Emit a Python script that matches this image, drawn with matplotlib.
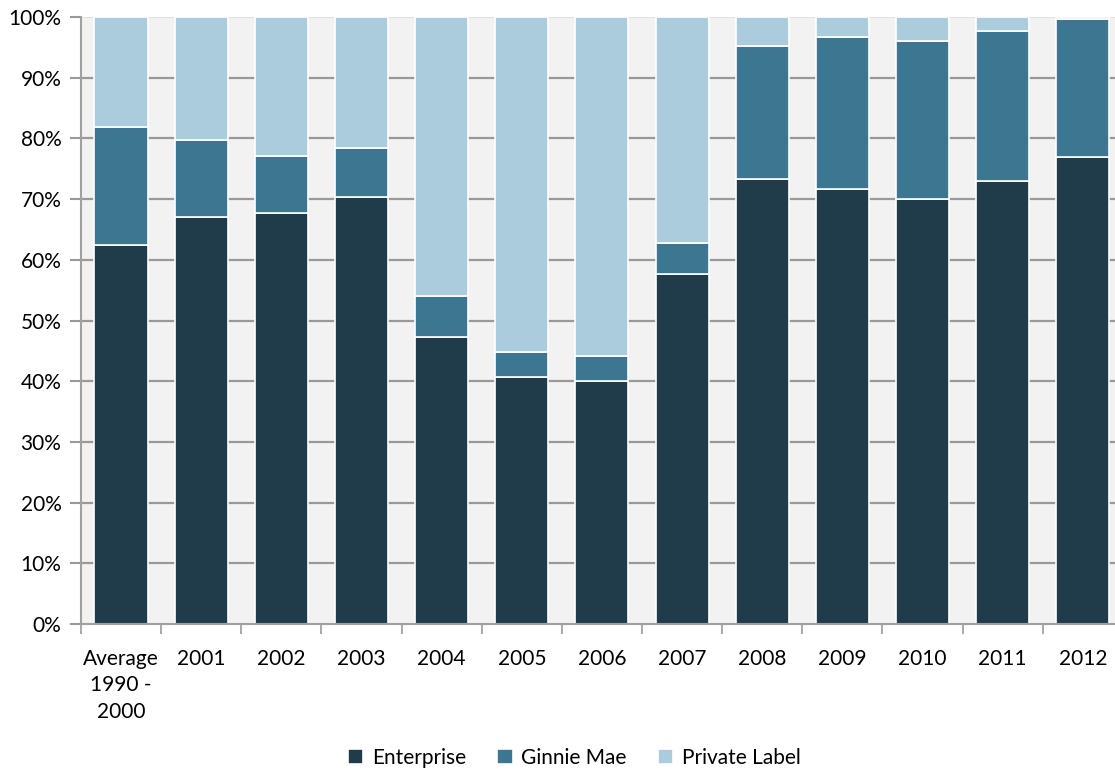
import matplotlib
matplotlib.use("Agg")
import matplotlib.pyplot as plt
import numpy as np

categories = ["Average\n1990 -\n2000", "2001", "2002", "2003", "2004", "2005", "2006",
              "2007", "2008", "2009", "2010", "2011", "2012"]
enterprise = [62.4, 67.0, 67.7, 70.3, 47.3, 40.7, 40.0, 57.7, 73.3, 71.7, 70.1, 73.0, 77.0]
ginnie_mae = [19.5, 12.7, 9.4, 8.1, 6.7, 4.1, 4.2, 5.1, 21.9, 25.0, 25.9, 24.7, 22.6]
private_label = [18.1, 20.3, 22.9, 21.6, 46.0, 55.2, 55.8, 37.2, 4.8, 3.3, 4.0, 2.3, 0.4]
yticks = [0, 10, 20, 30, 40, 50, 60, 70, 80, 90, 100]

plt.rcParams['font.family'] = ['Lato', 'DejaVu Sans']

fig = plt.figure(figsize=(11.15, 7.7), dpi=100)
ax = fig.add_axes([0.0726, 0.1896, 0.9345, 0.7883])
ax.set_facecolor('#F2F2F2')

x = np.arange(len(categories))
w = 0.662
c_ent, c_gin, c_pri = '#203C4B', '#3D7690', '#ABCCDD'
ent = np.array(enterprise)
gin = np.array(ginnie_mae)
pri = np.array(private_label)
ax.bar(x, ent, w, color=c_ent, edgecolor='white', linewidth=1.2, label='Enterprise', zorder=3)
ax.bar(x, gin, w, bottom=ent, color=c_gin, edgecolor='white', linewidth=1.2, label='Ginnie Mae', zorder=3)
ax.bar(x, pri, w, bottom=ent + gin, color=c_pri, edgecolor='white', linewidth=1.2, label='Private Label', zorder=3)

ax.set_xlim(-0.5, len(categories) - 0.5)
ax.set_ylim(0, 100)
for yv in yticks[1:-1]:
    ax.axhline(yv, color='#999999', linewidth=1.6, zorder=1)
ax.axhline(100, color='#DDDDDD', linewidth=1.2, zorder=1)

ax.set_yticks(yticks)
ax.set_yticklabels([f"{v}%" for v in yticks], fontsize=15)
ax.set_xticks(x)
ax.set_xticklabels(categories, fontsize=15, linespacing=1.4, va='top')
ax.tick_params(axis='x', length=0, pad=18)
ax.tick_params(axis='y', length=8, width=1.5, color='#999999', pad=6)
ax.set_xticks(np.arange(-0.5, len(categories), 1), minor=True)
ax.tick_params(axis='x', which='minor', length=7, width=1.2, color='#999999')

for s in ['top', 'right']:
    ax.spines[s].set_visible(False)
for s in ['left', 'bottom']:
    ax.spines[s].set_color('#A0A0A0')
    ax.spines[s].set_linewidth(1.5)
ax.spines['left'].set_zorder(4)
ax.spines['bottom'].set_zorder(4)

fig.legend(loc='center', bbox_to_anchor=(0.515, 0.016), ncol=3, frameon=False,
           fontsize=15, handlelength=0.75, handleheight=0.75, handletextpad=0.4,
           columnspacing=1.5)

fig.savefig('out.png', dpi=100)
